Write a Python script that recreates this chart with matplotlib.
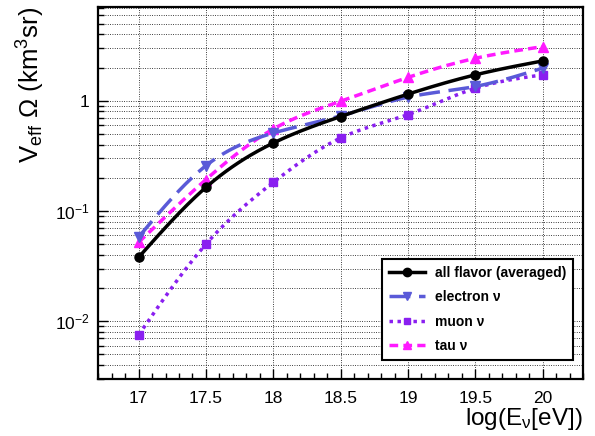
import matplotlib
matplotlib.use("Agg")
import matplotlib.pyplot as plt
import numpy as np
from matplotlib.ticker import FixedLocator, MultipleLocator, NullFormatter, LogLocator

plt.rcParams['font.family'] = ['Liberation Sans', 'DejaVu Sans']
plt.rcParams['mathtext.fontset'] = 'custom'
plt.rcParams['mathtext.rm'] = 'Liberation Sans'
plt.rcParams['mathtext.it'] = 'Liberation Sans:italic'

log_e = [17, 17.5, 18, 18.5, 19, 19.5, 20]
all_flavor = [0.038, 0.164, 0.414, 0.72, 1.15, 1.72, 2.30]
electron = [0.058, 0.258, 0.51, 0.73, 1.08, 1.35, 1.98]
muon = [0.0075, 0.050, 0.182, 0.46, 0.75, 1.30, 1.72]
tau = [0.052, 0.193, 0.555, 0.99, 1.63, 2.43, 3.10]


def smooth(x, y, n=200):
    # natural cubic spline through the points in log space, for drawing the line only
    x = np.asarray(x, float)
    ly = np.log10(y)
    k = len(x)
    h = np.diff(x)
    A = np.zeros((k, k))
    b = np.zeros(k)
    A[0, 0] = A[-1, -1] = 1
    for i in range(1, k - 1):
        A[i, i - 1] = h[i - 1]
        A[i, i] = 2 * (h[i - 1] + h[i])
        A[i, i + 1] = h[i]
        b[i] = 6 * ((ly[i + 1] - ly[i]) / h[i] - (ly[i] - ly[i - 1]) / h[i - 1])
    m = np.linalg.solve(A, b)
    xs = np.linspace(x[0], x[-1], n)
    idx = np.clip(np.searchsorted(x, xs) - 1, 0, k - 2)
    t0 = x[idx]
    t1 = x[idx + 1]
    hh = t1 - t0
    ys = (m[idx] * (t1 - xs) ** 3 + m[idx + 1] * (xs - t0) ** 3) / (6 * hh) \
        + (ly[idx] / hh - m[idx] * hh / 6) * (t1 - xs) \
        + (ly[idx + 1] / hh - m[idx + 1] * hh / 6) * (xs - t0)
    return xs, 10 ** ys


fig = plt.figure(figsize=(5.95, 4.36), dpi=100)
ax = fig.add_axes([0.165, 0.131, 0.815, 0.853])

series = [
    (all_flavor, 'black', '-', 'o', 6.5, 'all flavor (averaged)'),
    (electron, '#5a5ad8', (0, (6, 2.5)), 'v', 6.5, 'electron ν'),
    (muon, '#8a1ff0', (0, (1, 1.3)), 's', 5.5, 'muon ν'),
    (tau, '#ff1aff', (0, (2.5, 1.5)), '^', 6.5, 'tau ν'),
]
handles = []
for vals, col, ls, mk, ms, lab in reversed(series):
    xs, ys = smooth(log_e, vals)
    ax.plot(xs, ys, color=col, ls=ls, lw=2.5)
    ax.plot(log_e, vals, ls='none', marker=mk, ms=ms, color=col)
for vals, col, ls, mk, ms, lab in series:
    h, = ax.plot([], [], color=col, ls=ls, lw=2.5, marker=mk, ms=ms - 0.5, label=lab)
    handles.append(h)

ax.set_yscale('log')
ax.set_xlim(16.7, 20.3)
ax.set_ylim(0.003, 7.1)

ax.xaxis.set_minor_locator(MultipleLocator(0.1))
ax.set_xticks(log_e)
ax.set_xticklabels(['17', '17.5', '18', '18.5', '19', '19.5', '20'])
ax.yaxis.set_major_locator(FixedLocator([0.01, 0.1, 1]))
ax.set_yticklabels(['$10^{-2}$', '$10^{-1}$', '1'])
ax.yaxis.set_minor_locator(LogLocator(base=10, subs=np.arange(2, 10)))
ax.yaxis.set_minor_formatter(NullFormatter())

ax.tick_params(which='both', direction='in', labelsize=12.5, width=1)
ax.tick_params(which='major', length=7)
ax.tick_params(which='minor', length=4)
ax.tick_params(axis='x', pad=9)
ax.tick_params(axis='y', pad=6)

ax.grid(True, which='major', axis='x', color='black', ls=(0, (1, 1.8)), lw=0.6)
ax.grid(True, which='both', axis='y', color='black', ls=(0, (1, 1.8)), lw=0.6)
for s in ax.spines.values():
    s.set_linewidth(1.6)

ax.set_xlabel('log(E$_{\\rm ν}$[eV])', fontsize=17.5, loc='right', labelpad=0)
ax.set_ylabel('V$_{\\rm eff}$ Ω (km$^{3}$sr)', fontsize=18.5, loc='top', labelpad=6)

leg = ax.legend(handles=handles, loc='lower right', bbox_to_anchor=(0.979, 0.051),
                borderaxespad=0, frameon=True, fancybox=False, edgecolor='black',
                framealpha=1, prop={'weight': 'bold', 'size': 10}, handlelength=2.6,
                labelspacing=0.75, borderpad=0.5, handletextpad=0.7)
leg.get_frame().set_linewidth(1.5)

fig.savefig('out.png', dpi=100)
